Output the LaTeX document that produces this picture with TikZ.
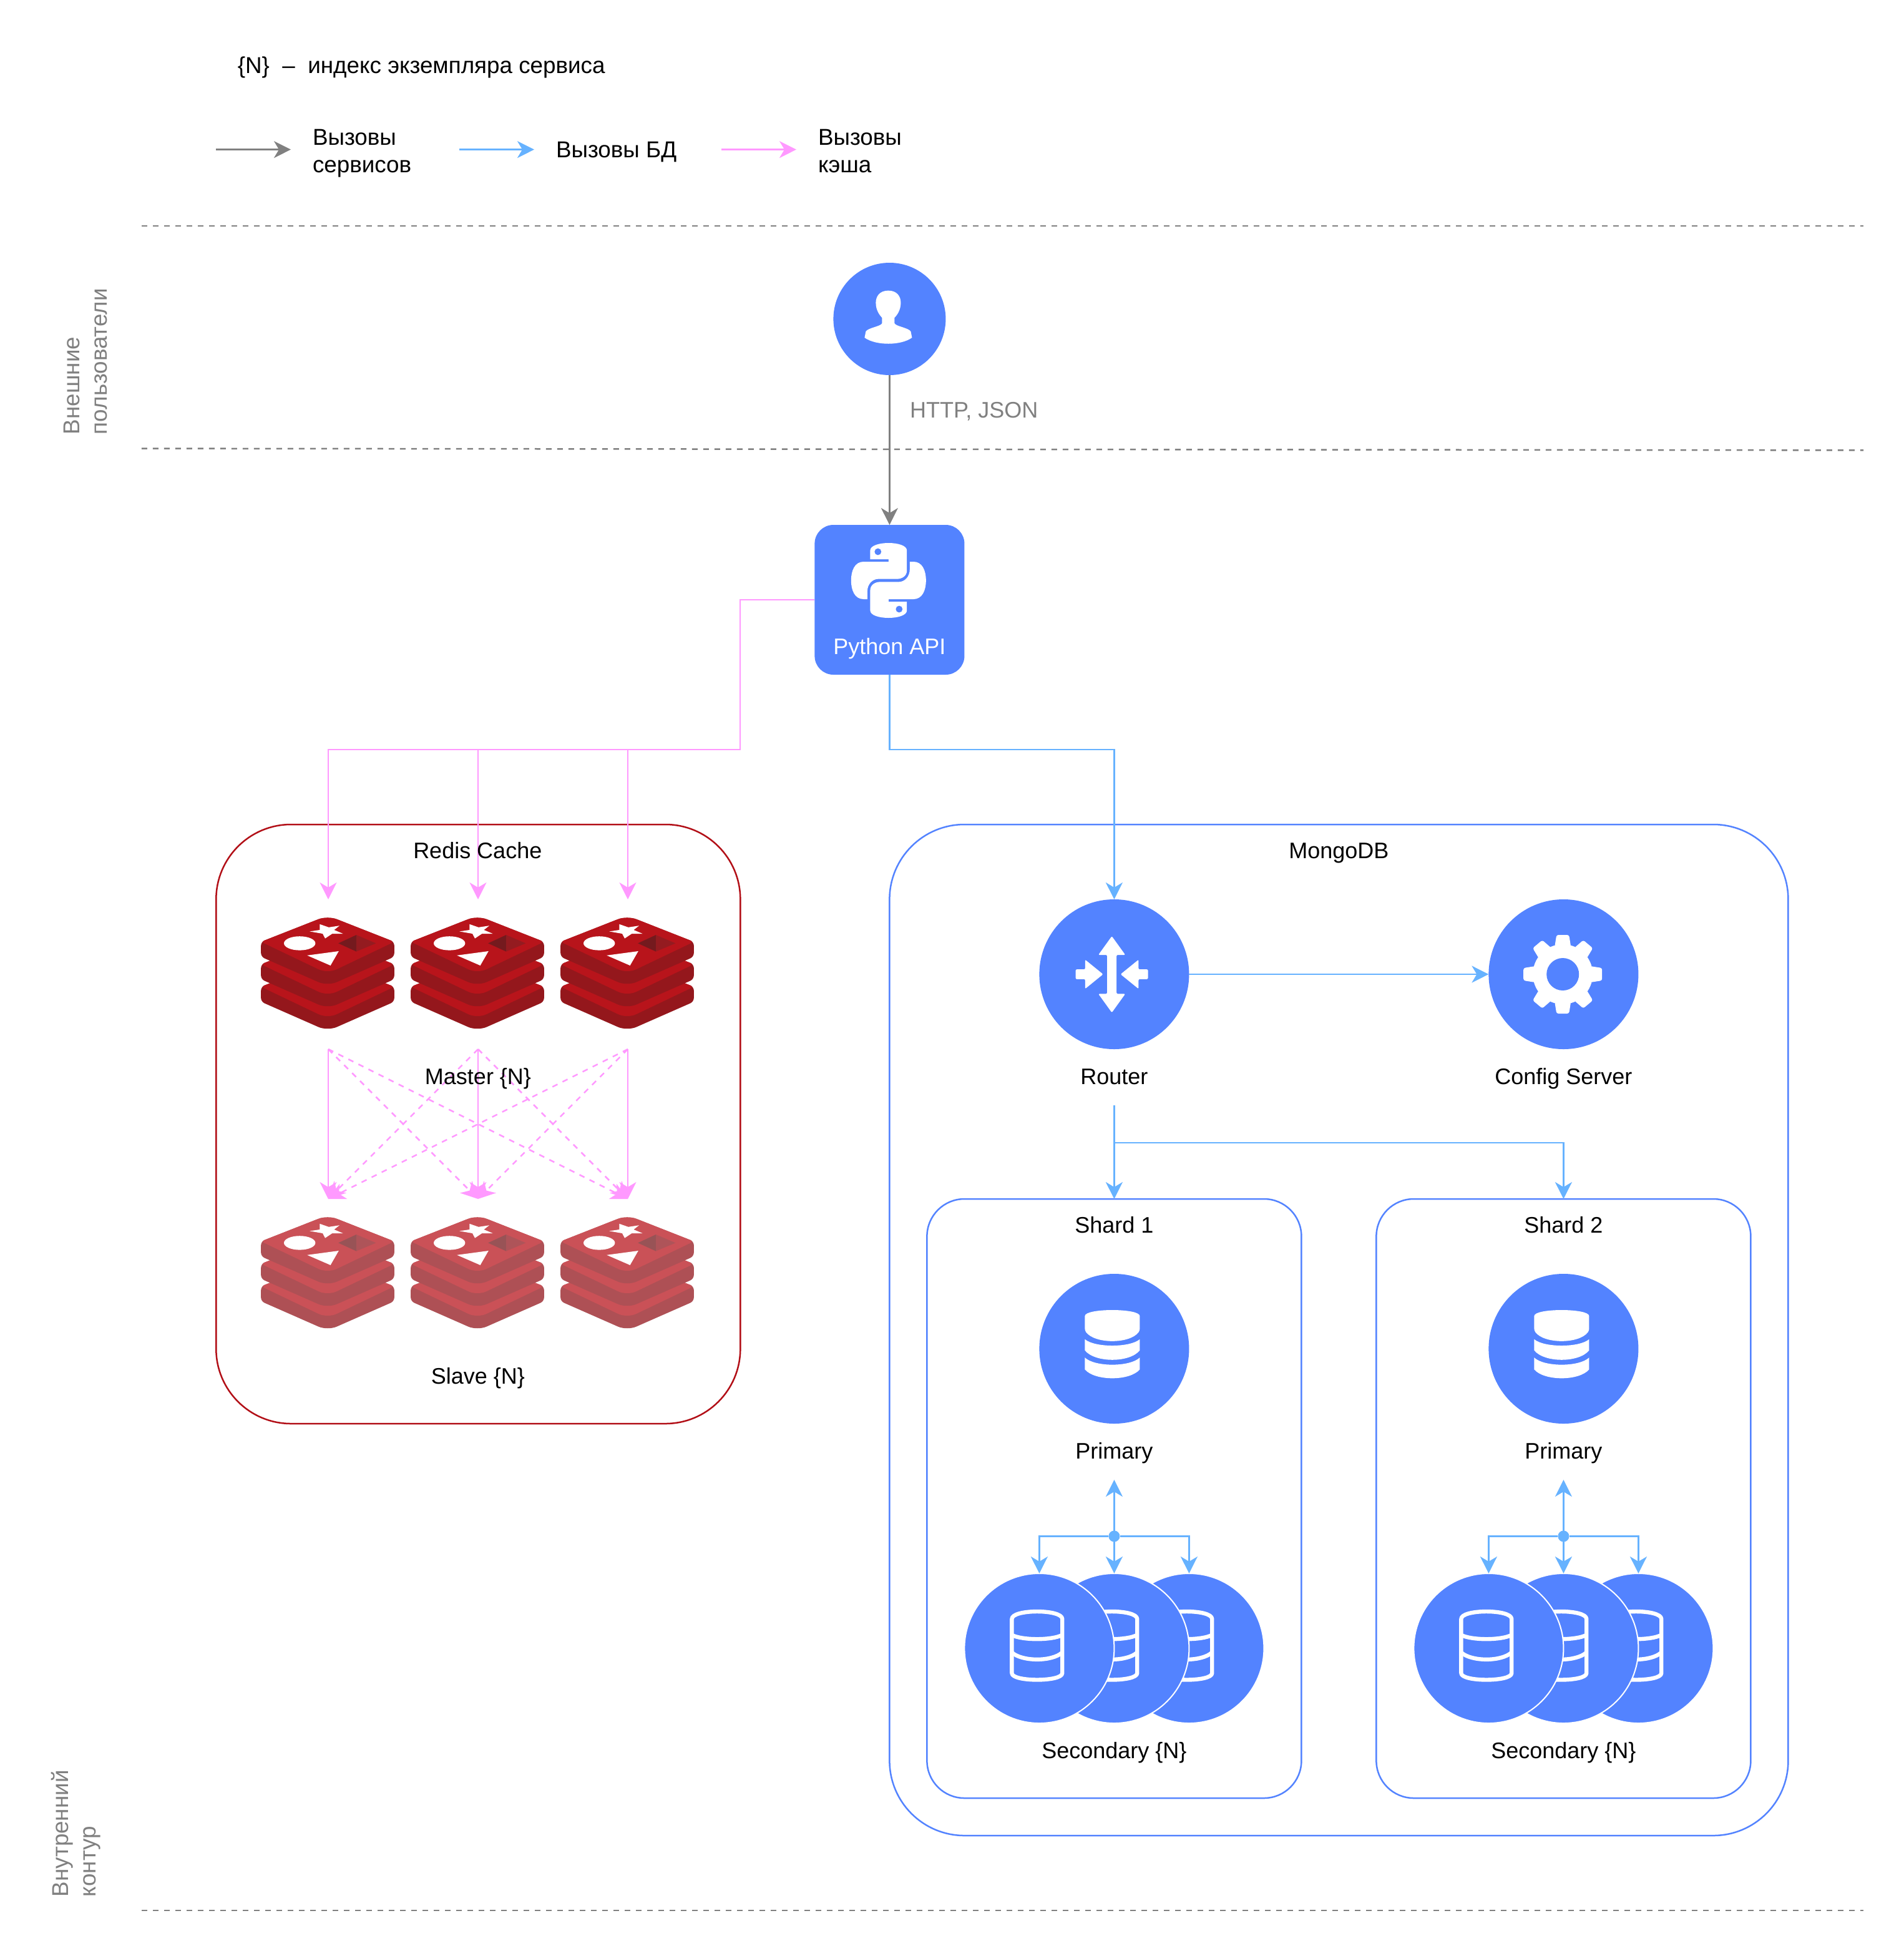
\documentclass[tikz,border=0pt]{standalone}
\usepackage{fontspec}
\usepackage{xcolor}
\setmainfont{Liberation Sans}
\usetikzlibrary{positioning,arrows.meta,calc}

\definecolor{nodeblue}{HTML}{5383FF}
\definecolor{dblink}{HTML}{66B2FF}
\definecolor{cachelink}{HTML}{FF99FF}
\definecolor{svclink}{HTML}{808080}
\definecolor{redisline}{HTML}{B20F17}
\definecolor{mastertop}{HTML}{B8141B}
\definecolor{masterside}{HTML}{94171C}
\definecolor{masterdiaL}{HTML}{741A1E}
\definecolor{masterdiaR}{HTML}{941B20}
\definecolor{slavetop}{HTML}{CA5157}
\definecolor{slaveside}{HTML}{AE5055}
\definecolor{slavediaL}{HTML}{985356}
\definecolor{slavediaR}{HTML}{AE5459}

% #1 slot node, #2 top, #3 side, #4 #5 the small diamond
\newcommand{\redisstack}[5]{%
  \begin{scope}[shift={(#1.center)},shift={(-0.5,-46)}]
    \foreach \off in {36,18,0} {
      \fill[#3,rounded corners=3pt] (26.7,\off+9.5) -- (53.4,\off+20) -- (53.4,\off+32) [rounded corners=8pt] -- (0,\off+55.5) [rounded corners=3pt] -- (-53.4,\off+32) -- (-53.4,\off+20) [rounded corners=8pt] -- (0,\off-1) -- cycle;
      \fill[#2,rounded corners=3pt] (26.7,\off+9.5) -- (53.4,\off+20) [rounded corners=8pt] -- (0,\off+45.5) [rounded corners=3pt] -- (-53.4,\off+20) [rounded corners=8pt] -- (0,\off-1) -- cycle;
    }
    \fill[white] (-14.4,11.7) -- (-6.3,10.5) -- (-6.3,5.9) -- (0.9,8.4) -- (9.5,7.1) -- (5.2,10.5) -- (12.3,13.5) -- (3.7,13.5) -- (-2,17.3) -- (-4,13.5) -- cycle;
    \fill[white] (-22.4,21.2) ellipse [x radius=12.6pt,y radius=5.6pt];
    \fill[white] (-16.4,30.9) -- (8.9,27.5) -- (2.3,39) -- cycle;
    \fill[#4] (8.6,21.2) -- (23,14.5) -- (23,27.8) -- cycle;
    \fill[#5] (23,14.5) -- (38.7,21.2) -- (23,27.8) -- cycle;
  \end{scope}}

\newcommand{\dbsolid}[1]{%
  \begin{scope}[shift={(#1.center)},shift={(-1.5,0)}]
    \fill[white,rounded corners=1.5pt] (-22,-24.7) .. controls (-22,-32.6) and (22,-32.6) .. (22,-24.7) -- (22,-14.5) .. controls (14,-3.7) and (-14,-3.7) .. (-22,-14.5) -- cycle;
    \fill[white] (-22,-7.6) .. controls (-14,-0.8) and (14,-0.8) .. (22,-7.6) -- (22,1.3) .. controls (14,11.4) and (-14,11.4) .. (-22,1.3) -- cycle;
    \fill[white] (-22,7.1) .. controls (-14,14.7) and (14,14.7) .. (22,7.1) -- (22,16.6) .. controls (14,26) and (-14,26) .. (-22,16.6) -- cycle;
  \end{scope}}

\newcommand{\dbhollow}[1]{%
  \begin{scope}[shift={(#1.center)},shift={(-1.8,0)},white,line width=3.2pt,line join=round]
    \draw (-20.2,-23.5) .. controls (-20.2,-31.5) and (20.2,-31.5) .. (20.2,-23.5) -- (20.2,19.9) .. controls (20.2,27) and (-20.2,27) .. (-20.2,19.9) -- cycle;
    \draw (-20.2,-10.7) .. controls (-12,-6.3) and (12,-6.3) .. (20.2,-10.7);
    \draw (-20.2,3.3) .. controls (-12,10.8) and (12,10.8) .. (20.2,3.3);
  \end{scope}}

\begin{document}
\begin{tikzpicture}[x=1pt,y=-1pt,
    >={Stealth[length=13.5pt,width=13.5pt,inset=4pt]},
    txt/.style={font=\fontsize{18}{22}\selectfont,inner sep=0pt,outer sep=0pt},
    cyr/.style={txt,font=\fontsize{18.4}{22}\selectfont},
    lbl/.style={txt,text height=13pt,text depth=4pt},
    zone/.style={draw=svclink,line width=1.25pt,dash pattern=on 4.5pt off 4.5pt},
    svc/.style={draw=svclink,line width=1.25pt},
    dbcall/.style={draw=dblink,line width=1.25pt},
    cachecall/.style={draw=cachelink,line width=1.25pt},
    cachedash/.style={cachecall,dash pattern=on 4.5pt off 4.5pt},
    cluster/.style={draw=#1,line width=1.25pt,inner sep=0pt,outer sep=0pt},
    round/.style={circle,fill=nodeblue,inner sep=0pt,outer sep=0pt,minimum size=#1},
    slot/.style={inner sep=0pt,outer sep=0pt,minimum size=120pt}]

  \fill[white] (0,0) rectangle (1525.5,1563);

  % zones
  \coordinate (zone1a) at (113.4,180.9);
  \coordinate (zone1b) at (1493,180.9);
  \coordinate (zone2a) at (113.4,359.3);
  \coordinate (zone2b) at (1493,360.7);
  \coordinate (zone3a) at (113.4,1530.4);
  \coordinate (zone3b) at (1493,1530.4);
  \draw[zone] (zone1a) -- (zone1b);
  \draw[zone] (zone2a) -- (zone2b);
  \draw[zone] (zone3a) -- (zone3b);
  \node (zoneext) [cyr,text=svclink,rotate=90,anchor=west,align=left] at (68.5,348) {Внешние\\пользователи};
  \node (zoneint) [cyr,text=svclink,rotate=90,anchor=west,align=left] at (60.8,1519.5) {Внутренний\\контур};

  % legend
  \node (note) [cyr,anchor=west] at (190.4,54) {\{N\}~~–~~индекс экземпляра сервиса};
  \coordinate (legsvc) at (173,119.8);
  \coordinate [right=60pt of legsvc] (legsvcend);
  \draw[svc,->] (legsvc) -- (legsvcend);
  \node (legsvctext) [cyr,align=left,right=17.5pt of legsvcend,yshift=-3pt] {Вызовы\\сервисов};
  \coordinate (legdb) at (368,119.8);
  \coordinate [right=60pt of legdb] (legdbend);
  \draw[dbcall,->] (legdb) -- (legdbend);
  \node (legdbtext) [cyr,right=17.5pt of legdbend,yshift=-2pt] {Вызовы БД};
  \coordinate (legcache) at (578,119.8);
  \coordinate [right=60pt of legcache] (legcacheend);
  \draw[cachecall,->] (legcache) -- (legcacheend);
  \node (legcachetext) [cyr,align=left,right=17.5pt of legcacheend,yshift=-1pt] {Вызовы\\кэша};

  % clusters
  \node (redis) [cluster=redisline,rounded corners=60pt,minimum width=420pt,minimum height=480pt] at (383.15,900.5) {};
  \node (mongo) [cluster=nodeblue,rounded corners=60pt,minimum width=720pt,minimum height=810pt] at (1072.7,1065.5) {};
  \foreach \s/\cx in {1/892.7,2/1252.7} {
    \node (shard\s) [cluster=nodeblue,rounded corners=30pt,minimum width=300pt,minimum height=480pt] at (\cx,1200.5) {};
  }

  % user and api
  \node (user) [round=90pt] at (712.7,255.5) {};
  \node (api) [fill=nodeblue,rounded corners=15pt,inner sep=0pt,outer sep=0pt,minimum size=120pt,below=120pt of user] {};
  \draw[svc,->] (user) -- (api);
  \node (proto) [lbl,text=svclink,anchor=west] at (729,330) {HTTP, JSON};
  \begin{scope}[shift={(user.center)},shift={(-1,0)}]
    \fill[white] (0,-22.7) .. controls (7,-22.7) and (10,-18) .. (10,-13) .. controls (10,-7) and (7,-3) .. (5,-1) -- (5,3.5) .. controls (6,6) and (16,7) .. (18,10) -- (19,15) .. controls (10,21.5) and (-10,21.5) .. (-19,15) -- (-18,10) .. controls (-16,7) and (-6,6) .. (-5,3.5) -- (-5,-1) .. controls (-7,-3) and (-10,-7) .. (-10,-13) .. controls (-10,-18) and (-7,-22.7) .. (0,-22.7) -- cycle;
  \end{scope}
  \foreach \turn in {0,180} {
    \begin{scope}[shift={(api.center)},shift={(-0.8,-15.5)},rotate=\turn]
      \fill[white] (-14.7,-24) .. controls (-14.7,-32) and (14.7,-32) .. (14.7,-24) -- (14.7,-8) .. controls (14.7,-3) and (10,-1.2) .. (7,-1.2) -- (-8,-1.2) .. controls (-13,-1.2) and (-17,3) .. (-17,9) -- (-17,15) -- (-20,15) .. controls (-27,15) and (-30,8) .. (-30,0) .. controls (-30,-8) and (-27,-15) .. (-20,-15) -- (0,-15) -- (0,-17) -- (-14.7,-17) -- cycle;
      \fill[nodeblue] (-8.5,-23) circle (2.7pt);
    \end{scope}
  }
  \node (apilabel) [lbl,text=white,above=12.5pt of api.south] {Python API};

  % redis slots
  \foreach \i/\cx in {1/263,2/383,3/503} {
    \node (master\i) [slot] at (\cx,780.5) {};
    \node (slave\i) [slot,below=120pt of master\i] {};
  }
  \coordinate (cachebus) at (593,600.5);
  \draw[cachecall,->] (api.west) -| (cachebus) -| (master1.north);
  \draw[cachecall,->] (cachebus) -| (master2.north);
  \draw[cachecall,->] (cachebus) -| (master3.north);
  \foreach \a in {1,2,3} {
    \foreach \b in {1,2,3} {
      \ifnum\a=\b
        \draw[cachecall,->] (master\a.south) -- (slave\b.north);
      \else
        \draw[cachedash,->] (master\a.south) -- (slave\b.north);
      \fi
    }
    \redisstack{master\a}{mastertop}{masterside}{masterdiaL}{masterdiaR}
    \redisstack{slave\a}{slavetop}{slaveside}{slavediaL}{slavediaR}
  }
  \node (redistitle) [lbl,below=14pt of redis.north,xshift=-0.5pt] {Redis Cache};
  \node (masterlabel) [lbl,below=15pt of master2] {Master \{N\}};
  \node (slavelabel) [lbl,below=15pt of slave2] {Slave \{N\}};

  % mongo
  \node (mongotitle) [lbl,below=14pt of mongo.north] {MongoDB};
  \node (router) [round=120pt] at (892.7,780.5) {};
  \node (config) [round=120pt,right=240pt of router] {};
  \node (routerlabel) [lbl,below=15pt of router] {Router};
  \node (configlabel) [lbl,below=15pt of config] {Config Server};
  \coordinate (dbbus) at (892.7,600.5);
  \draw[dbcall,->] (api.south) |- (dbbus) -- (router.north);
  \draw[dbcall,->] (router) -- (config);
  \coordinate [below=45pt of router] (routerout);
  \coordinate [below=75pt of router] (shardfork);
  \draw[dbcall,->] (routerout) -- (shard1.north);
  \draw[dbcall,->] (shardfork) -| (shard2.north);
  \begin{scope}[shift={(router.center)},shift={(-1.9,0)},white,rounded corners=1pt]
    \fill (0,-30.5) -- (10.8,-15.5) -- (3.8,-15.5) -- (3.8,15.7) -- (10.8,15.7) -- (0,30.7) -- (-10.8,15.7) -- (-3.8,15.7) -- (-3.8,-15.5) -- (-10.8,-15.5) -- cycle;
    \fill (-29,-3.9) -- (-21.4,-3.9) -- (-21.4,-11.7) -- (-7,0) -- (-21.4,11.7) -- (-21.4,3.9) -- (-29,3.9) -- cycle;
    \fill (29,-3.9) -- (21.4,-3.9) -- (21.4,-11.7) -- (7,0) -- (21.4,11.7) -- (21.4,3.9) -- (29,3.9) -- cycle;
  \end{scope}
  \begin{scope}[shift={(config.center)},shift={(-0.6,0)}]
    \foreach \ang in {0,40,90,140,180,220,270,320} {
      \fill[white,rotate=\ang,rounded corners=1.5pt] (-6.5,-22) -- (-5,-31.5) -- (5,-31.5) -- (6.5,-22) -- cycle;
    }
    \fill[white] (0,0) circle (24pt);
    \fill[nodeblue] (0,0) circle (13pt);
  \end{scope}

  % shards
  \foreach \s/\cx in {1/892.7,2/1252.7} {
    \node (shardtitle\s) [lbl,below=14pt of shard\s.north] {Shard \s};
    \node (primary\s) [round=120pt] at (\cx,1080.5) {};
    \dbsolid{primary\s}
    \node (primarylabel\s) [lbl,below=15pt of primary\s] {Primary};
    \node (sec\s c) [round=120pt,draw=white,line width=1pt] at (\cx+60,1320.5) {};
    \dbhollow{sec\s c}
    \node (sec\s b) [round=120pt,draw=white,line width=1pt,left=-60pt of sec\s c] {};
    \dbhollow{sec\s b}
    \node (sec\s a) [round=120pt,draw=white,line width=1pt,left=-60pt of sec\s b] {};
    \dbhollow{sec\s a}
    \node (seclabel\s) [lbl,below=15pt of sec\s b] {Secondary \{N\}};
    \coordinate [below=45pt of primary\s] (primaryout\s);
    \node (dot\s) [circle,fill=dblink,inner sep=0pt,minimum size=9pt,below=85.5pt of primary\s] {};
    \draw[dbcall,<->] (primaryout\s) -- (sec\s b.north);
    \draw[dbcall,->] (dot\s) -| (sec\s a.north);
    \draw[dbcall,->] (dot\s) -| (sec\s c.north);
  }
\end{tikzpicture}
\end{document}
